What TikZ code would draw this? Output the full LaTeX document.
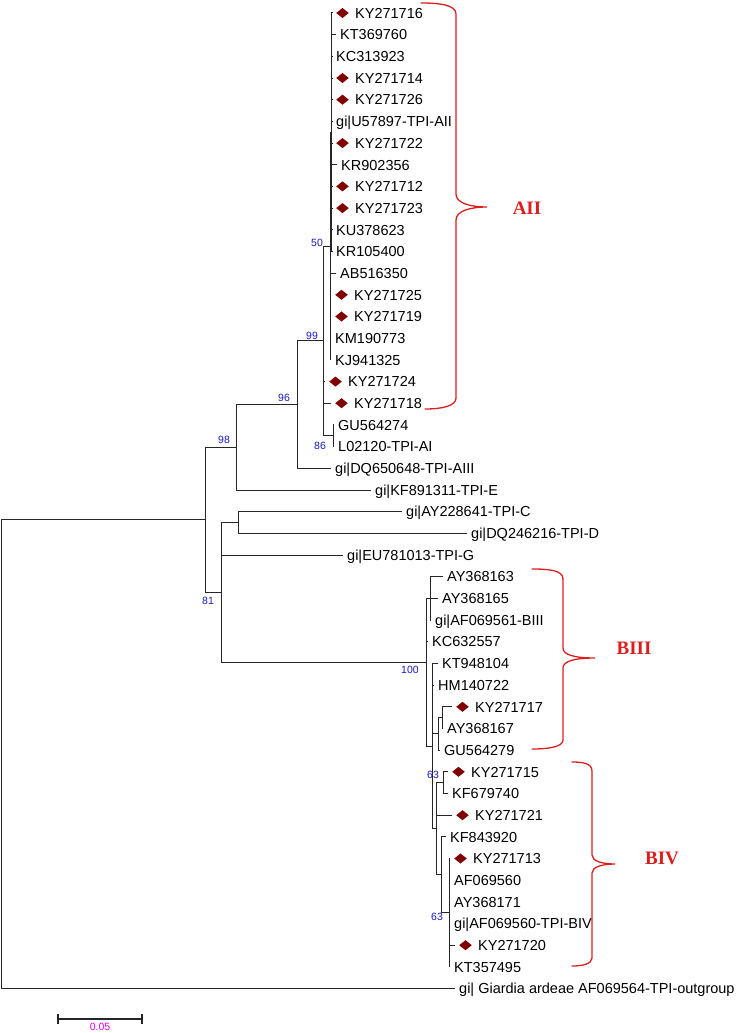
\documentclass[tikz,border=0pt]{standalone}
\usepackage{fontspec}
\setmainfont{Liberation Sans}
\newfontfamily\cladefont{Liberation Serif}
\usetikzlibrary{shapes.geometric}
\definecolor{bsblue}{RGB}{25,25,190}
\definecolor{mkred}{RGB}{128,0,0}
\definecolor{brred}{RGB}{220,30,30}
\definecolor{barpink}{RGB}{230,0,230}
\tikzset{
  branch/.style={draw=black!85,line width=1pt},
  leaf/.style={anchor=west,inner xsep=4pt,inner ysep=0pt,text height=10.4pt,text depth=0pt,font=\fontsize{14.5}{16}\selectfont},
  isolate/.style={diamond,fill=mkred,anchor=west,minimum width=15pt,minimum height=12.5pt,inner sep=0pt,outer sep=3pt},
  boot/.style={text=bsblue,inner sep=0pt,text height=7.5pt,text depth=0pt,font=\fontsize{10.5}{12}\selectfont},
  clade/.style={text=brred,inner sep=0pt,font=\cladefont\bfseries\fontsize{19}{21}\selectfont},
  brace/.style={draw=brred,line width=1.3pt,line cap=round},
  scalebar/.style={draw=black!85,line width=2pt}
}
\begin{document}
\begin{tikzpicture}[x=1pt,y=-1pt]
  \useasboundingbox (0,0) rectangle (738,1033);
  % internal nodes
  \coordinate (root) at (1,754.2);
  \coordinate (nIn) at (205,519.75);
  \coordinate (n98) at (236,447.3);
  \coordinate (n96) at (297,404.6);
  \coordinate (n99) at (323,340.9);
  \coordinate (n50) at (330,246.1);
  \coordinate (subA) at (331.5,132.25);
  \coordinate (n86) at (333,435.75);
  \coordinate (n81) at (221,592.2);
  \coordinate (nCD) at (238,522.45);
  \coordinate (nB) at (426,662);
  \coordinate (nB1) at (430,598.35);
  \coordinate (nB2) at (432,746.05);
  \coordinate (nB3) at (438,733.85);
  \coordinate (nB4) at (442,717.6);
  \coordinate (nB5) at (436,828.7);
  \coordinate (nB6) at (443,782.65);
  \coordinate (nB9) at (441,874.75);
  \coordinate (nB10) at (449,912.7);
  % leaves, assemblage AII
  \node[isolate] (ky271716m) at (332,13) {}; \node[leaf,inner xsep=2pt] (ky271716) at (ky271716m.east) {KY271716};
  \node[leaf] (kt369760) at (336,34.7) {KT369760};
  \node[leaf] (kc313923) at (332,56.4) {KC313923};
  \node[isolate] (ky271714m) at (332,78) {}; \node[leaf,inner xsep=2pt] (ky271714) at (ky271714m.east) {KY271714};
  \node[isolate] (ky271726m) at (332,99.7) {}; \node[leaf,inner xsep=2pt] (ky271726) at (ky271726m.east) {KY271726};
  \node[leaf] (u57897) at (332,121.4) {gi|U57897-TPI-AII};
  \node[isolate] (ky271722m) at (332,143.1) {}; \node[leaf,inner xsep=2pt] (ky271722) at (ky271722m.east) {KY271722};
  \node[leaf] (kr902356) at (337,164.8) {KR902356};
  \node[isolate] (ky271712m) at (332,186.4) {}; \node[leaf,inner xsep=2pt] (ky271712) at (ky271712m.east) {KY271712};
  \node[isolate] (ky271723m) at (332,208.1) {}; \node[leaf,inner xsep=2pt] (ky271723) at (ky271723m.east) {KY271723};
  \node[leaf] (ku378623) at (332,229.8) {KU378623};
  \node[leaf] (kr105400) at (332,251.5) {KR105400};
  \node[leaf] (ab516350) at (336,273.2) {AB516350};
  \node[isolate] (ky271725m) at (331,294.8) {}; \node[leaf,inner xsep=2pt] (ky271725) at (ky271725m.east) {KY271725};
  \node[isolate] (ky271719m) at (331,316.5) {}; \node[leaf,inner xsep=2pt] (ky271719) at (ky271719m.east) {KY271719};
  \node[leaf] (km190773) at (331,338.2) {KM190773};
  \node[leaf] (kj941325) at (331,359.9) {KJ941325};
  \node[isolate] (ky271724m) at (325,381.6) {}; \node[leaf,inner xsep=2pt] (ky271724) at (ky271724m.east) {KY271724};
  \node[isolate] (ky271718m) at (331,403.2) {}; \node[leaf,inner xsep=2pt] (ky271718) at (ky271718m.east) {KY271718};
  \node[leaf] (gu564274) at (334,424.9) {GU564274};
  \node[leaf] (l02120) at (334,446.6) {L02120-TPI-AI};
  % leaves, other assemblages
  \node[leaf] (dq650648) at (331,468.3) {gi|DQ650648-TPI-AIII};
  \node[leaf] (kf891311) at (371,490) {gi|KF891311-TPI-E};
  \node[leaf] (ay228641) at (402,511.6) {gi|AY228641-TPI-C};
  \node[leaf] (dq246216) at (467,533.3) {gi|DQ246216-TPI-D};
  \node[leaf] (eu781013) at (343,555) {gi|EU781013-TPI-G};
  % leaves, assemblage B
  \node[leaf] (ay368163) at (443,576.7) {AY368163};
  \node[leaf] (ay368165) at (438,598.4) {AY368165};
  \node[leaf] (af069561) at (431,620) {gi|AF069561-BIII};
  \node[leaf] (kc632557) at (428,641.7) {KC632557};
  \node[leaf] (kt948104) at (438,663.4) {KT948104};
  \node[leaf] (hm140722) at (434,685.1) {HM140722};
  \node[isolate] (ky271717m) at (452,706.8) {}; \node[leaf,inner xsep=2pt] (ky271717) at (ky271717m.east) {KY271717};
  \node[leaf] (ay368167) at (443,728.4) {AY368167};
  \node[leaf] (gu564279) at (440,750.1) {GU564279};
  \node[isolate] (ky271715m) at (448,771.8) {}; \node[leaf,inner xsep=2pt] (ky271715) at (ky271715m.east) {KY271715};
  \node[leaf] (kf679740) at (448,793.5) {KF679740};
  \node[isolate] (ky271721m) at (452,815.2) {}; \node[leaf,inner xsep=2pt] (ky271721) at (ky271721m.east) {KY271721};
  \node[leaf] (kf843920) at (446,836.8) {KF843920};
  \node[isolate] (ky271713m) at (450,858.5) {}; \node[leaf,inner xsep=2pt] (ky271713) at (ky271713m.east) {KY271713};
  \node[leaf] (af069560) at (450,880.2) {AF069560};
  \node[leaf] (ay368171) at (450,901.9) {AY368171};
  \node[leaf] (af069560b) at (450,923.6) {gi|AF069560-TPI-BIV};
  \node[isolate] (ky271720m) at (455,945.2) {}; \node[leaf,inner xsep=2pt] (ky271720) at (ky271720m.east) {KY271720};
  \node[leaf] (kt357495) at (450,966.9) {KT357495};
  \node[leaf] (outgrp) at (455,988.6) {gi| Giardia ardeae AF069564-TPI-outgroup};
  % branches
  \draw[branch] (root) |- (nIn); \draw[branch] (root) |- (outgrp.west);
  \draw[branch] (nIn) |- (n98); \draw[branch] (nIn) |- (n81);
  \draw[branch] (n98) |- (n96); \draw[branch] (n98) |- (kf891311.west);
  \draw[branch] (n96) |- (n99); \draw[branch] (n96) |- (dq650648.west);
  \foreach \kid in {n50,ky271724m.west,ky271718m.west,n86}
    \draw[branch] (n99) |- (\kid);
  \foreach \kid in {subA,ab516350.west,ky271725m.west,ky271719m.west,km190773.west,kj941325.west}
    \draw[branch] (n50) |- (\kid);
  \foreach \kid in {ky271716m,kt369760,kc313923,ky271714m,ky271726m,u57897,ky271722m,kr902356,ky271712m,ky271723m,ku378623,kr105400}
    \draw[branch] (subA) |- (\kid.west);
  \draw[branch] (n86) |- (gu564274.west); \draw[branch] (n86) |- (l02120.west);
  \draw[branch] (n81) |- (nCD); \draw[branch] (n81) |- (eu781013.west); \draw[branch] (n81) |- (nB);
  \draw[branch] (nCD) |- (ay228641.west); \draw[branch] (nCD) |- (dq246216.west);
  \draw[branch] (nB) |- (nB1); \draw[branch] (nB) |- (kc632557.west); \draw[branch] (nB) |- (nB2);
  \foreach \kid in {ay368163,ay368165,af069561}
    \draw[branch] (nB1) |- (\kid.west);
  \foreach \kid in {kt948104.west,hm140722.west,nB3,nB5}
    \draw[branch] (nB2) |- (\kid);
  \draw[branch] (nB3) |- (nB4); \draw[branch] (nB3) |- (gu564279.west);
  \draw[branch] (nB4) |- (ky271717m.west); \draw[branch] (nB4) |- (ay368167.west);
  \draw[branch] (nB5) |- (nB6); \draw[branch] (nB5) |- (ky271721m.west); \draw[branch] (nB5) |- (nB9);
  \draw[branch] (nB6) |- (ky271715m.west); \draw[branch] (nB6) |- (kf679740.west);
  \draw[branch] (nB9) |- (kf843920.west); \draw[branch] (nB9) |- (nB10);
  \foreach \kid in {ky271713m,af069560,ay368171,af069560b,ky271720m,kt357495}
    \draw[branch] (nB10) |- (\kid.west);
  % bootstrap values
  \node[boot] (bs50) at (317,243) {50};
  \node[boot] (bs99) at (312,336) {99};
  \node[boot] (bs96) at (284,398) {96};
  \node[boot] (bs98) at (224,440) {98};
  \node[boot] (bs86) at (320,446) {86};
  \node[boot] (bs81) at (208,601) {81};
  \node[boot] (bs100) at (410,670) {100};
  \node[boot] (bs63a) at (433,775) {63};
  \node[boot] (bs63b) at (437,917) {63};
  % assemblage braces
  \draw[brace] (421,3) .. controls (440,3) and (456,5) .. (456,14) -- (456,194)
    .. controls (456,203) and (470,207) .. (487,207) .. controls (470,207) and (456,211) .. (456,220)
    -- (456,398) .. controls (456,406) and (442,409) .. (425,409);
  \node[clade] (cAII) at (527,208) {AII};
  \draw[brace] (532,569) .. controls (548,569) and (563,570) .. (563,579) -- (563,648)
    .. controls (563,655) and (575,658) .. (595,658) .. controls (575,658) and (563,661) .. (563,668)
    -- (563,740) .. controls (563,747) and (548,749) .. (532,749);
  \node[clade] (cBIII) at (634,648) {BIII};
  \draw[brace] (572,762) .. controls (582,762) and (592,763) .. (592,771) -- (592,855)
    .. controls (592,861) and (602,864) .. (615,864) .. controls (602,864) and (592,867) .. (592,873)
    -- (592,958) .. controls (592,964) and (582,966) .. (572,966);
  \node[clade] (cBIV) at (662,858) {BIV};
  % scale bar
  \coordinate (sbl) at (58,1019); \coordinate (sbr) at (142,1019);
  \draw[scalebar] (sbl) -- (sbr);
  \draw[scalebar] ([yshift=-5pt]sbl) -- ([yshift=5pt]sbl);
  \draw[scalebar] ([yshift=-5pt]sbr) -- ([yshift=5pt]sbr);
  \node[boot,text=barpink,font=\fontsize{10.5}{12}\selectfont] (sblabel) at (100,1027) {0.05};
\end{tikzpicture}
\end{document}
